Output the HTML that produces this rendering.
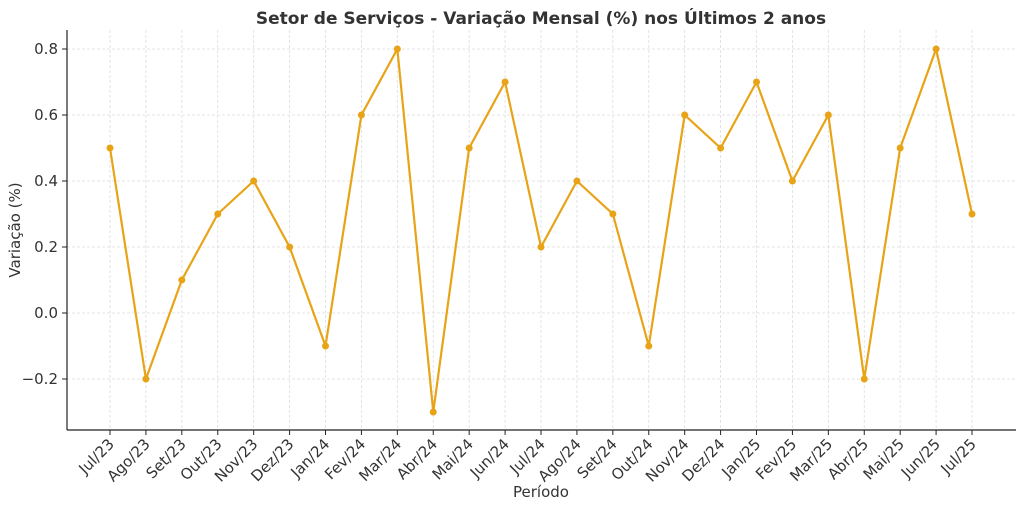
<!DOCTYPE html>
<html><head><meta charset="utf-8"><style>
body{margin:0;background:#fff;}
svg{display:block;font-family:"DejaVu Sans","Liberation Sans",sans-serif;}
</style></head><body>
<svg width="1024" height="508" xmlns="http://www.w3.org/2000/svg">
<rect width="1024" height="508" fill="#fff"/>
<text x="541" y="24" text-anchor="middle" font-size="17" font-weight="bold" fill="#333">Setor de Serviços - Variação Mensal (%) nos Últimos 2 anos</text>
<g id="grid" stroke="#ddd" stroke-width="0.8" stroke-dasharray="3,2"></g>
<line x1="67" y1="30" x2="67" y2="430" stroke="#222" stroke-width="1.2"/>
<line x1="67" y1="430" x2="1016" y2="430" stroke="#222" stroke-width="1.2"/>
<g id="yt" font-size="15" fill="#333" text-anchor="end"></g>
<g id="xt" font-size="15" fill="#333"></g>
<polyline id="ln" fill="none" stroke="#E8A317" stroke-width="2.2"/>
<g id="pts" fill="#E8A317"></g>
<text x="541" y="497" text-anchor="middle" font-size="15" fill="#333">Período</text>
<text transform="translate(20,230) rotate(-90)" text-anchor="middle" font-size="15" fill="#333">Variação (%)</text>
</svg>
<script>
var d=[0.5,-0.2,0.1,0.3,0.4,0.2,-0.1,0.6,0.8,-0.3,0.5,0.7,0.2,0.4,0.3,-0.1,0.6,0.5,0.7,0.4,0.6,-0.2,0.5,0.8,0.3];
var l=["Jul/23","Ago/23","Set/23","Out/23","Nov/23","Dez/23","Jan/24","Fev/24","Mar/24","Abr/24","Mai/24","Jun/24","Jul/24","Ago/24","Set/24","Out/24","Nov/24","Dez/24","Jan/25","Fev/25","Mar/25","Abr/25","Mai/25","Jun/25","Jul/25"];
var ns="http://www.w3.org/2000/svg";
function X(i){return 110+i*35.917;}function Y(v){return 313-v*330;}
function el(t,a,p,tx){var e=document.createElementNS(ns,t);for(var k in a)e.setAttribute(k,a[k]);if(tx)e.textContent=tx;document.getElementById(p).appendChild(e);}
[-0.2,0,0.2,0.4,0.6,0.8].forEach(function(v){var y=Y(v);el("line",{x1:67,x2:1016,y1:y,y2:y},"grid");el("line",{x1:62,x2:67,y1:y,y2:y,stroke:"#222"},"yt");el("text",{x:58,y:y+5},"yt",(v<0?"\u22120.2":v.toFixed(1)));});
var pts=[];
d.forEach(function(v,i){var x=X(i);el("line",{x1:x,x2:x,y1:30,y2:430},"grid");el("line",{x1:x,x2:x,y1:430,y2:435,stroke:"#222"},"xt");el("text",{x:x+5,y:445,"text-anchor":"end",transform:"rotate(-45 "+(x+5)+" 445)"},"xt",l[i]);pts.push(x+","+Y(v));el("circle",{cx:x,cy:Y(v),r:3.5},"pts");});
document.getElementById("ln").setAttribute("points",pts.join(" "));
</script>
</body></html>
